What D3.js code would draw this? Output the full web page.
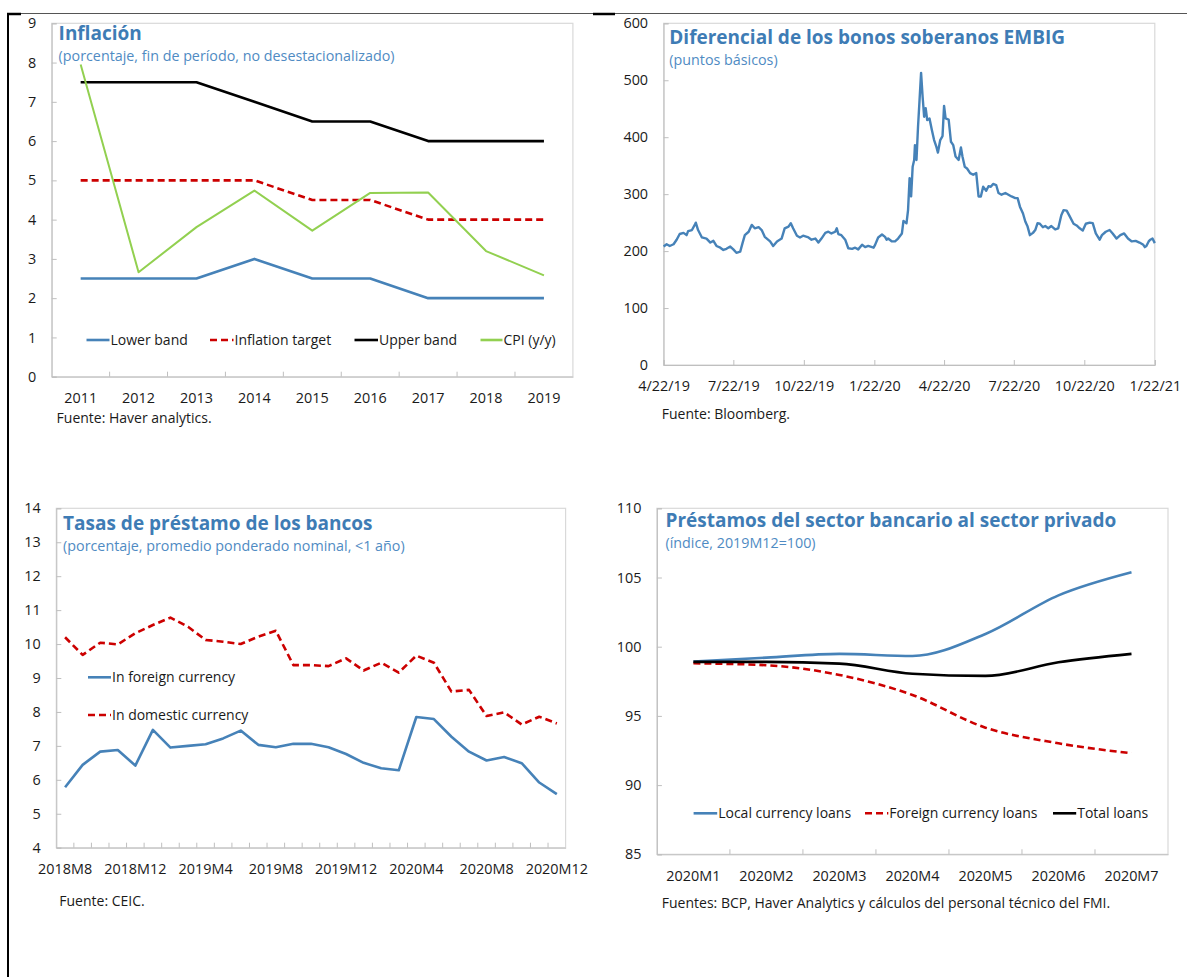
<!DOCTYPE html>
<html>
<head>
<meta charset="utf-8">
<script src="https://cdn.jsdelivr.net/npm/d3@7"></script>
<style>
  html, body { margin: 0; padding: 0; background: #fff; }
  svg { display: block; font-family: "Open Sans", "Noto Sans", sans-serif; }
</style>
</head>
<body>
<svg id="c" width="1187" height="977"></svg>
<script>
// ---------- DATA ----------
// Panel 1: Inflación
const inflYears = ["2011","2012","2013","2014","2015","2016","2017","2018","2019"];
const lowerBand = [2.5,2.5,2.5,3,2.5,2.5,2,2,2];
const inflTarget = [5,5,5,5,4.5,4.5,4,4,4];
const upperBand = [7.5,7.5,7.5,7,6.5,6.5,6,6,6];
const cpiYY = [7.95,2.66,3.81,4.74,3.72,4.68,4.69,3.2,2.58];
const inflYTicks = [0,1,2,3,4,5,6,7,8,9];

// Panel 2: EMBIG spread
const embigDates = [
"2019-04-22","2019-04-26","2019-04-30","2019-05-05","2019-05-09","2019-05-13","2019-05-18","2019-05-22","2019-05-24","2019-05-29",
"2019-06-02","2019-06-03","2019-06-06","2019-06-11","2019-06-17","2019-06-22","2019-06-26","2019-06-30","2019-07-05","2019-07-09",
"2019-07-13","2019-07-18","2019-07-22","2019-07-26","2019-07-31","2019-08-03","2019-08-06","2019-08-11","2019-08-15","2019-08-19",
"2019-08-24","2019-08-28","2019-09-01","2019-09-08","2019-09-12","2019-09-17","2019-09-23","2019-09-27","2019-10-02","2019-10-05",
"2019-10-08","2019-10-13","2019-10-17","2019-10-21","2019-10-28","2019-11-01","2019-11-06","2019-11-10","2019-11-14","2019-11-19",
"2019-11-23","2019-11-27","2019-12-02","2019-12-04","2019-12-06","2019-12-10","2019-12-15","2019-12-19","2019-12-24","2019-12-28",
"2020-01-01","2020-01-06","2020-01-10","2020-01-14","2020-01-21","2020-01-23","2020-01-27","2020-02-01","2020-02-05","2020-02-07",
"2020-02-09","2020-02-14","2020-02-18","2020-02-22","2020-02-27","2020-02-29","2020-03-04","2020-03-06","2020-03-08","2020-03-10",
"2020-03-12","2020-03-14","2020-03-15","2020-03-17","2020-03-19","2020-03-21","2020-03-23","2020-03-25","2020-03-27","2020-03-29",
"2020-03-31","2020-04-03","2020-04-06","2020-04-09","2020-04-12","2020-04-14","2020-04-17","2020-04-20","2020-04-22","2020-04-24",
"2020-04-28","2020-05-01","2020-05-04","2020-05-07","2020-05-11","2020-05-14","2020-05-16","2020-05-19","2020-05-22","2020-05-26",
"2020-05-30","2020-06-03","2020-06-06","2020-06-09","2020-06-12","2020-06-16","2020-06-19","2020-06-22","2020-06-25","2020-06-29",
"2020-07-02","2020-07-06","2020-07-11","2020-07-15","2020-07-19","2020-07-24","2020-07-27","2020-07-30","2020-08-03","2020-08-06",
"2020-08-09","2020-08-12","2020-08-16","2020-08-19","2020-08-22","2020-08-25","2020-08-29","2020-09-01","2020-09-05","2020-09-09",
"2020-09-14","2020-09-18","2020-09-22","2020-09-25","2020-09-29","2020-10-03","2020-10-08","2020-10-12","2020-10-16","2020-10-20",
"2020-10-24","2020-10-29","2020-11-02","2020-11-06","2020-11-11","2020-11-14","2020-11-19","2020-11-24","2020-11-28","2020-12-03",
"2020-12-08","2020-12-13","2020-12-18","2020-12-23","2020-12-28","2021-01-02","2021-01-07","2021-01-09","2021-01-11","2021-01-14",
"2021-01-16","2021-01-19","2021-01-22"];
const embigValues = [
208,212,209,212,220,230,232,228,235,237,
247,250,237,224,222,215,218,209,206,202,
204,208,203,197,199,214,228,234,246,240,
242,237,225,217,209,217,222,240,243,249,
240,227,224,227,224,220,222,215,222,232,
234,231,234,240,230,228,220,205,204,206,
203,211,207,209,206,211,224,229,225,220,
222,217,217,222,231,253,249,272,328,296,
348,360,386,360,418,465,513,471,436,451,
430,433,413,395,383,373,395,402,455,433,
431,392,386,366,360,382,366,348,345,337,
334,337,296,296,313,306,314,313,318,316,
302,299,302,299,296,293,293,278,266,252,
243,228,232,237,249,248,242,244,240,244,
238,240,263,272,271,261,248,245,240,236,
248,250,249,231,220,228,234,237,231,222,
228,231,222,217,218,215,211,207,209,217,
220,222,214];
const embigTickDates = ["2019-04-22","2019-07-22","2019-10-22","2020-01-22","2020-04-22","2020-07-22","2020-10-22","2021-01-22"];
const embigTickLabels = ["4/22/19","7/22/19","10/22/19","1/22/20","4/22/20","7/22/20","10/22/20","1/22/21"];
const embigYTicks = [0,100,200,300,400,500,600];

// Panel 3: Tasas de préstamo
const rateMonths = ["2018M8","2018M9","2018M10","2018M11","2018M12","2019M1","2019M2","2019M3","2019M4","2019M5",
"2019M6","2019M7","2019M8","2019M9","2019M10","2019M11","2019M12","2020M1","2020M2","2020M3",
"2020M4","2020M5","2020M6","2020M7","2020M8","2020M9","2020M10","2020M11","2020M12"];
const foreignRate = [5.78,6.44,6.83,6.88,6.42,7.47,6.95,7.0,7.05,7.22,7.45,7.03,6.96,7.06,7.06,6.96,6.76,6.5,6.34,6.28,7.85,7.79,7.27,6.83,6.57,6.67,6.49,5.92,5.58];
const domesticRate = [10.2,9.68,10.04,9.99,10.32,10.56,10.78,10.51,10.12,10.07,10.0,10.22,10.39,9.38,9.38,9.35,9.58,9.22,9.45,9.16,9.66,9.45,8.6,8.65,7.88,7.99,7.63,7.86,7.66];
const rateLabelMonths = ["2018M8","2018M12","2019M4","2019M8","2019M12","2020M4","2020M8","2020M12"];
const rateYTicks = [4,5,6,7,8,9,10,11,12,13,14];

// Panel 4: Préstamos
const loanMonths = ["2020M1","2020M2","2020M3","2020M4","2020M5","2020M6","2020M7"];
const localLoans = [98.92,99.21,99.48,99.33,100.92,103.71,105.38];
const foreignLoans = [98.8,98.66,97.96,96.51,94.15,93.02,92.3];
const totalLoans = [98.9,98.9,98.78,98.05,97.89,98.87,99.48];
const loanYTicks = [85,90,95,100,105,110];

// ---------- STYLE ----------
const BLUE = "#4682b8", RED = "#cc0000", BLACK = "#000", GREEN = "#92d050";
const TITLE = "#3e7cb5", SUB = "#4f8bc3";
const TXT = "#1a1a1a";
const TICKFS = 14.4;

const svg = d3.select("#c");
svg.append("rect").attr("width",1187).attr("height",977).attr("fill","#fff");

// outer table border
svg.append("line").attr("x1",7).attr("x2",1187).attr("y1",13.5).attr("y2",13.5).attr("stroke","#555").attr("stroke-width",1);
svg.append("line").attr("x1",7).attr("x2",21).attr("y1",14).attr("y2",14).attr("stroke","#000").attr("stroke-width",2.5);
svg.append("line").attr("x1",593).attr("x2",615).attr("y1",14).attr("y2",14).attr("stroke","#000").attr("stroke-width",2.5);
svg.append("line").attr("x1",8).attr("x2",8).attr("y1",13).attr("y2",977).attr("stroke","#000").attr("stroke-width",2);

function panelFrame(b, title, sub, tx, tyT, tyS) {
  const g = svg.append("g");
  g.append("rect").attr("x",b.x0).attr("y",b.y0).attr("width",b.x1-b.x0).attr("height",b.y1-b.y0)
    .attr("fill","none").attr("stroke","#d9d9d9").attr("stroke-width",1.2);
  g.append("text").attr("x",tx).attr("y",tyT).attr("fill",TITLE).attr("font-size",19).attr("font-weight",700).text(title);
  g.append("text").attr("x",tx).attr("y",tyS).attr("fill",SUB).attr("font-size",14.3).text(sub);
  return g;
}
function yAxis(g, b, y, ticks) {
  const ax = g.append("g").attr("transform",`translate(${b.x0},0)`)
    .call(d3.axisLeft(y).tickValues(ticks).tickSize(-5).tickPadding(15.5).tickFormat(d3.format("d")));
  ax.select(".domain").attr("stroke","#bfbfbf");
  ax.selectAll(".tick line").attr("stroke","#bfbfbf");
  ax.selectAll("text").attr("font-size",TICKFS).attr("fill",TXT).attr("font-family","Open Sans, sans-serif");
  return ax;
}
function bandXAxis(g, b, x, labelFilter, pad) {
  const ax = g.append("g").attr("transform",`translate(0,${b.y1})`)
    .call(d3.axisBottom(x).tickSize(0).tickPadding(pad).tickFormat(d => labelFilter(d) ? d : ""));
  ax.select(".domain").attr("stroke","#bfbfbf");
  ax.selectAll("text").attr("font-size",TICKFS).attr("fill",TXT).attr("font-family","Open Sans, sans-serif");
  // boundary tick marks (inside)
  const dom = x.domain();
  g.append("g").selectAll("line").data(dom.slice(1)).join("line")
    .attr("x1",d=>x(d)).attr("x2",d=>x(d)).attr("y1",b.y1).attr("y2",b.y1-5)
    .attr("stroke","#bfbfbf");
  return ax;
}
function legendItem(g, x, y, color, dash, label, w) {
  g.append("line").attr("x1",x).attr("x2",x+(w||23)).attr("y1",y).attr("y2",y)
    .attr("stroke",color).attr("stroke-width",2.6).attr("stroke-dasharray",dash||null);
  g.append("text").attr("x",x+(w||23)+1).attr("y",y).attr("dy","0.35em").attr("font-size",14).attr("fill",TXT).text(label);
}
function drawLine(g, xs, ys, xf, yf, color, width, dash, curve) {
  const data = xs.map((d,i)=>[d, ys[i]]);
  g.append("path").datum(data)
    .attr("d", d3.line().x(d=>xf(d[0])).y(d=>yf(d[1])).curve(curve||d3.curveLinear))
    .attr("fill","none").attr("stroke",color).attr("stroke-width",width)
    .attr("stroke-dasharray",dash||null).attr("stroke-linejoin","round");
}
function source(x, y, t) {
  svg.append("text").attr("x",x).attr("y",y).attr("font-size",14).attr("fill",TXT).text(t);
}

// ---------- PANEL 1 ----------
{
  const b = {x0:51.7, x1:572.9, y0:23.3, y1:376.7};
  const g = panelFrame(b, "Inflación", "(porcentaje, fin de período, no desestacionalizado)", 58.6, 40, 61);
  const x = d3.scaleBand().domain(inflYears).range([b.x0,b.x1]);
  const y = d3.scaleLinear().domain([0,9]).range([b.y1,b.y0]);
  yAxis(g,b,y,inflYTicks);
  bandXAxis(g,b,x,()=>true,16);
  const xc = d => x(d)+x.bandwidth()/2;
  drawLine(g, inflYears, lowerBand, xc, y, BLUE, 2.6);
  drawLine(g, inflYears, inflTarget, xc, y, RED, 2.6, "7,4");
  drawLine(g, inflYears, upperBand, xc, y, BLACK, 2.6);
  drawLine(g, inflYears, cpiYY, xc, y, GREEN, 2);
  legendItem(g, 86.5, 340, BLUE, null, "Lower band", 23);
  legendItem(g, 210, 340, RED, "7,4", "Inflation target", 23.5);
  legendItem(g, 354.5, 340, BLACK, null, "Upper band", 23.5);
  legendItem(g, 480.5, 340, GREEN, null, "CPI (y/y)", 22);
  source(56.6, 423, "Fuente: Haver analytics.");
}

// ---------- PANEL 2 ----------
{
  const b = {x0:663.6, x1:1154.8, y0:23.3, y1:365};
  const g = panelFrame(b, "Diferencial de los bonos soberanos EMBIG", "(puntos básicos)", 669.3, 43.5, 65);
  const parse = d3.utcParse("%Y-%m-%d");
  const x = d3.scaleUtc().domain([parse("2019-04-22"), parse("2021-01-22")]).range([b.x0,b.x1]);
  const y = d3.scaleLinear().domain([0,600]).range([b.y1,b.y0]);
  yAxis(g,b,y,embigYTicks);
  const tickD = embigTickDates.map(parse);
  const ax = g.append("g").attr("transform",`translate(0,${b.y1})`)
    .call(d3.axisBottom(x).tickValues(tickD).tickSize(-5).tickPadding(16)
      .tickFormat((d,i)=>embigTickLabels[i]));
  ax.select(".domain").attr("stroke","#bfbfbf");
  ax.selectAll(".tick line").attr("stroke","#bfbfbf");
  ax.selectAll("text").attr("font-size",TICKFS).attr("fill",TXT).attr("font-family","Open Sans, sans-serif");
  drawLine(g, embigDates.map(parse), embigValues, x, y, BLUE, 2.4);
  source(661.8, 419, "Fuente: Bloomberg.");
}

// ---------- PANEL 3 ----------
{
  const b = {x0:56.3, x1:565.6, y0:508.3, y1:847.7};
  const g = panelFrame(b, "Tasas de préstamo de los bancos", "(porcentaje, promedio ponderado nominal, <1 año)", 63.1, 530, 551);
  const x = d3.scaleBand().domain(rateMonths).range([b.x0,b.x1]);
  const y = d3.scaleLinear().domain([4,14]).range([b.y1,b.y0]);
  yAxis(g,b,y,rateYTicks);
  bandXAxis(g,b,x,d=>rateLabelMonths.includes(d),16.5);
  const xc = d => x(d)+x.bandwidth()/2;
  drawLine(g, rateMonths, foreignRate, xc, y, BLUE, 2.6);
  drawLine(g, rateMonths, domesticRate, xc, y, RED, 2.6, "7,4");
  legendItem(g, 88, 677.3, BLUE, null, "In foreign currency", 23);
  legendItem(g, 88, 715, RED, "7,4", "In domestic currency", 23);
  source(59.3, 906, "Fuente: CEIC.");
}

// ---------- PANEL 4 ----------
{
  const b = {x0:656.9, x1:1168, y0:508.3, y1:854.3};
  const g = panelFrame(b, "Préstamos del sector bancario al sector privado", "(índice, 2019M12=100)", 665.5, 526.7, 548);
  const x = d3.scaleBand().domain(loanMonths).range([b.x0,b.x1]);
  const y = d3.scaleLinear().domain([85,110]).range([b.y1,b.y0]);
  yAxis(g,b,y,loanYTicks);
  bandXAxis(g,b,x,()=>true,16.5);
  const xc = d => x(d)+x.bandwidth()/2;
  drawLine(g, loanMonths, localLoans, xc, y, BLUE, 2.6, null, d3.curveMonotoneX);
  drawLine(g, loanMonths, foreignLoans, xc, y, RED, 2.6, "7,4", d3.curveMonotoneX);
  drawLine(g, loanMonths, totalLoans, xc, y, BLACK, 2.6, null, d3.curveMonotoneX);
  legendItem(g, 693.6, 813.3, BLUE, null, "Local currency loans", 23.6);
  legendItem(g, 865, 813.3, RED, "7,4", "Foreign currency loans", 23.3);
  legendItem(g, 1053, 813.3, BLACK, null, "Total loans", 23.2);
  source(661.8, 908, "Fuentes: BCP, Haver Analytics y cálculos del personal técnico del FMI.");
}
</script>
</body>
</html>
